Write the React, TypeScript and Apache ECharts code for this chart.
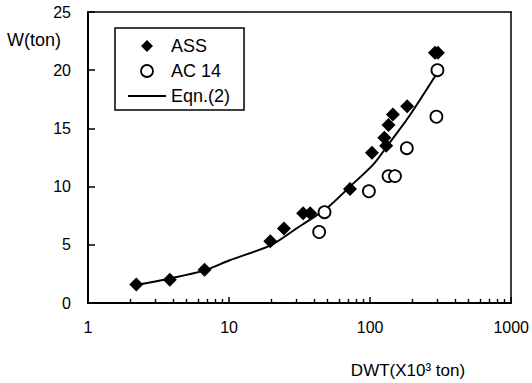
import React, { useEffect, useRef } from "react";
import * as echarts from "echarts";

const assX = [2.2, 3.8, 6.7, 19.6, 24.5, 33.5, 37.6, 72, 103, 126, 130, 135, 145, 183, 288, 302];
const assY = [1.6, 2.0, 2.85, 5.3, 6.4, 7.7, 7.7, 9.8, 12.9, 14.2, 13.5, 15.3, 16.2, 16.9, 21.5, 21.5];

const acX = [43.5, 47.5, 98, 135, 150, 182, 295, 300];
const acY = [6.1, 7.8, 9.6, 10.9, 10.9, 13.3, 16.0, 20.0];

const eqX = [2.2, 3.8, 6.7, 10, 20, 30, 38, 50, 72, 107, 136, 188, 300];
const eqY = [1.55, 2.1, 2.8, 3.65, 5.0, 6.4, 7.2, 8.2, 10.0, 12.0, 13.7, 16.0, 19.8];

const minorTickX = [2, 3, 4, 5, 6, 7, 8, 9, 20, 30, 40, 50, 60, 70, 80, 90, 200, 300, 400, 500, 600, 700, 800, 900];
const minorTickLen = 0.35; // in y units (about 4px)

const seriesNames = ["ASS", "AC 14", "Eqn.(2)"];
const xName = "DWT(X10³ ton)";
const yName = "W(ton)";

const FONT = "'Liberation Sans', Arial, Helvetica, sans-serif";

const DIAMOND_ICON = "path://M6,0L12,6L6,12L0,6Z";
const CIRCLE_ICON = "path://M1,6A5,5 0 1,0 11,6A5,5 0 1,0 1,6Z";

export default function App() {
  const ref = useRef<HTMLDivElement>(null);
  useEffect(() => {
    if (!ref.current) return;
    const chart = echarts.init(ref.current, undefined, { renderer: "svg" });
    const zip = (xs: number[], ys: number[]) => xs.map((x, i) => [x, ys[i]]);
    const frameAxis = {
      axisLine: { show: true, onZero: false, lineStyle: { color: "#000", width: 1.5 } },
      axisTick: { show: false },
      axisLabel: { show: false },
      splitLine: { show: false },
    };
    chart.setOption({
      animation: false,
      backgroundColor: "#fff",
      textStyle: { fontFamily: FONT, color: "#000" },
      grid: { left: 88, right: 16, top: 12, bottom: 80, show: false, containLabel: false },
      legend: {
        data: [
          { name: seriesNames[0], icon: DIAMOND_ICON },
          { name: seriesNames[1], icon: CIRCLE_ICON, itemStyle: { color: "#fff", borderColor: "#000", borderWidth: 1.8 } },
          { name: seriesNames[2], itemStyle: { opacity: 0 } },
        ],
        orient: "vertical",
        left: 115,
        top: 28,
        itemWidth: 38,
        itemHeight: 12,
        itemGap: 7,
        symbolKeepAspect: true,
        padding: [9, 14, 5, 12],
        borderColor: "#000",
        borderWidth: 1.5,
        selectedMode: false,
        textStyle: { fontSize: 18, color: "#000", fontFamily: FONT },
      },
      xAxis: [
        {
          type: "log",
          logBase: 10,
          min: 1,
          max: 1000,
          position: "bottom",
          axisLine: { show: true, onZero: false, lineStyle: { color: "#000", width: 2 } },
          axisTick: { show: true, inside: true, length: 6, lineStyle: { color: "#000", width: 1.5 } },
          axisLabel: {
            color: "#000",
            fontSize: 16,
            margin: 16,
            fontFamily: FONT,
            formatter: (v: number) => String(Math.round(v)),
          },
          splitLine: { show: false },
        },
        { type: "log", logBase: 10, min: 1, max: 1000, position: "top", ...frameAxis },
      ],
      yAxis: [
        {
          type: "value",
          min: 0,
          max: 25,
          interval: 5,
          position: "left",
          axisLine: { show: true, onZero: false, lineStyle: { color: "#000", width: 2 } },
          axisTick: { show: true, inside: true, length: 7, lineStyle: { color: "#000", width: 1.5 } },
          axisLabel: { color: "#000", fontSize: 16, margin: 17, fontFamily: FONT },
          splitLine: { show: false },
        },
        { type: "value", min: 0, max: 25, interval: 5, position: "right", ...frameAxis },
      ],
      graphic: [
        { type: "text", left: 7, top: 31, style: { text: yName, fontSize: 18, fill: "#000", fontFamily: FONT } },
        {
          type: "text",
          x: 408,
          y: 370,
          style: { text: xName, fontSize: 17, fill: "#000", fontFamily: FONT, align: "center", verticalAlign: "middle" },
        },
      ],
      series: [
        {
          name: "Eqn.(2)",
          type: "line",
          data: zip(eqX, eqY),
          smooth: 0.3,
          symbol: "none",
          showSymbol: false,
          lineStyle: { color: "#000", width: 2 },
          itemStyle: { color: "#000" },
          z: 2,
          markLine: {
            silent: true,
            symbol: ["none", "none"],
            label: { show: false },
            lineStyle: { color: "#000", width: 1.4, type: "solid" },
            data: minorTickX.map((x) => [{ coord: [x, 0] }, { coord: [x, minorTickLen] }]),
          },
        },
        {
          name: "ASS",
          type: "scatter",
          data: zip(assX, assY),
          symbol: "diamond",
          symbolSize: 14,
          itemStyle: { color: "#000", opacity: 1 },
          z: 3,
        },
        {
          name: "AC 14",
          type: "scatter",
          data: zip(acX, acY),
          symbol: "circle",
          symbolSize: 12,
          itemStyle: { color: "#fff", borderColor: "#000", borderWidth: 1.8, opacity: 1 },
          z: 4,
        },
      ],
    });
    return () => chart.dispose();
  }, []);
  return <div ref={ref} style={{ width: 532, height: 383, position: "fixed", left: 0, top: 0, background: "#fff" }} />;
}
